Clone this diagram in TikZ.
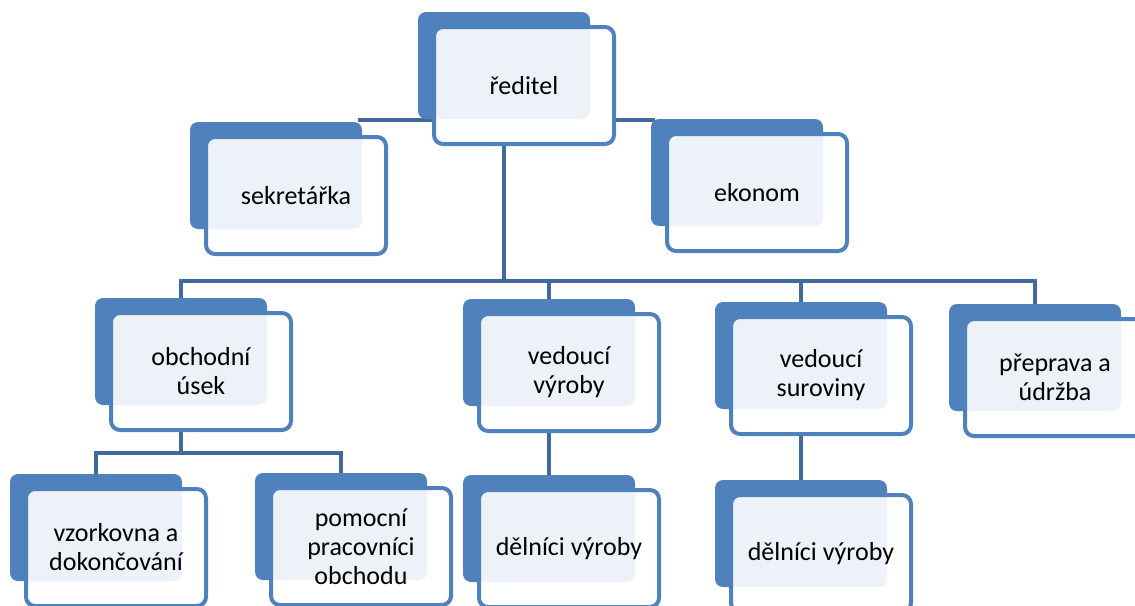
\documentclass[tikz,border=0pt]{standalone}
\usepackage{fontspec}
\setmainfont{Carlito}
\usetikzlibrary{calc}
\pgfdeclarelayer{background}
\pgfsetlayers{background,main}
\definecolor{backc}{HTML}{4F81BD}
\definecolor{framec}{HTML}{4F81BD}
\definecolor{lightc}{HTML}{EDF1F8}
\definecolor{connc}{HTML}{41699B}
\tikzset{
  backbox/.style={fill=backc, rounded corners=8pt, minimum width=172pt, minimum height=107pt, inner sep=0pt, outer sep=0pt},
  frontbox/.style={draw=framec, line width=4pt, rounded corners=9pt, minimum width=180pt, minimum height=117pt, align=center, inner sep=0pt, font=\fontsize{26}{29}\selectfont},
  conn/.style={draw=connc, line width=4.5pt}
}
\newcommand\orgunit[3]{%
  \node[backbox] (#1b) at ($#2+(70,38.5)$) {};
  \begin{scope}
    \clip[rounded corners=9pt] #2 rectangle ++(180,117);
    \fill[white] #2 rectangle ++(180,117);
    \fill[lightc, rounded corners=8pt] (#1b.north west) rectangle (#1b.south east);
  \end{scope}
  \node[frontbox] (#1) at ($#2+(90,58.5)$) {#3};
}
\begin{document}
\begin{tikzpicture}[x=1pt,y=-1pt]
\useasboundingbox (0,0) rectangle (1135,605);
\clip (0,0) rectangle (1135,605);
\orgunit{r}{(434,27)}{ředitel}
\orgunit{s}{(206,137)}{sekretářka}
\orgunit{e}{(667,134)}{ekonom}
\orgunit{ob}{(111,313)}{obchodní\\úsek}
\orgunit{vv}{(479,314)}{vedoucí\\výroby}
\orgunit{vs}{(731,317)}{vedoucí\\suroviny}
\orgunit{pp}{(965,319)}{přeprava a\\údržba}
\orgunit{vz}{(26,489)}{vzorkovna a\\dokončování}
\orgunit{pm}{(271,488)}{pomocní\\pracovníci\\obchodu}
\orgunit{dl}{(479,490)}{dělníci výroby}
\orgunit{dr}{(731,495)}{dělníci výroby}
\coordinate (abar) at (0,120);
\coordinate (bar) at (0,281);
\coordinate (bar2) at (0,453);
\begin{pgfonlayer}{background}
  \draw[conn] ($(sb.north east |- abar)+(-4,0)$) -- ($(eb.north west |- abar)+(4,0)$);
  \draw[conn] (rb.center) -- (rb.center |- bar);
  \draw[conn] (obb.north) -- (obb.north |- bar) -- (ppb.north |- bar) -- (ppb.north);
  \draw[conn] (vvb.north |- bar) -- (vvb.north);
  \draw[conn] (vsb.north |- bar) -- (vsb.north);
  \draw[conn] (obb.center) -- (obb.center |- bar2);
  \draw[conn] (vzb.north) -- (vzb.north |- bar2) -- (pmb.north |- bar2) -- (pmb.north);
  \draw[conn] (vvb.center) -- (dlb.north);
  \draw[conn] (vsb.center) -- (drb.north);
\end{pgfonlayer}
\end{tikzpicture}
\end{document}
